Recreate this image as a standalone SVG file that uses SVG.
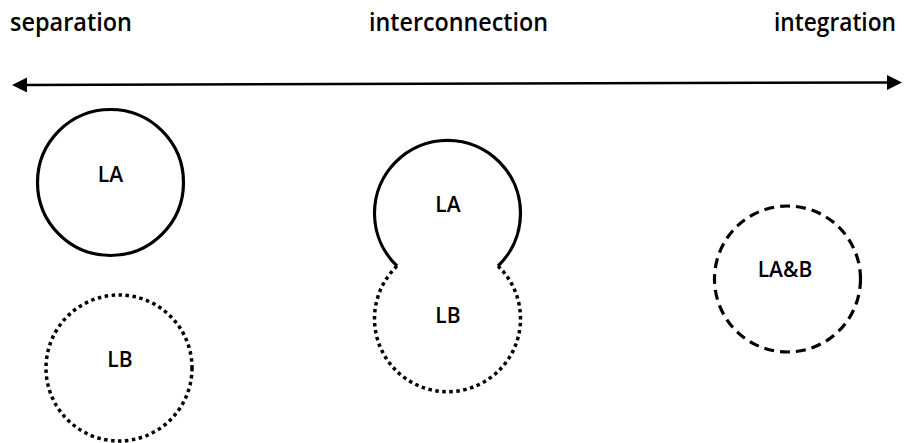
<svg xmlns="http://www.w3.org/2000/svg" width="907" height="443" viewBox="0 0 907 443">
<defs>
<marker id="ah" viewBox="0 0 10 10" refX="2" refY="5" markerWidth="6" markerHeight="6" orient="auto-start-reverse" markerUnits="strokeWidth">
<path d="M0,0 L10,5 L0,10 Z" fill="#000"/>
</marker>
</defs>
<style>
.lbl{font-family:"Open Sans","Liberation Sans",sans-serif;font-size:25px;fill:#000;font-weight:600}
.t{font-family:"Open Sans","Liberation Sans",sans-serif;font-size:21px;fill:#000;font-weight:600;text-anchor:middle}
.solid{fill:none;stroke:#000;stroke-width:3.2}
.dot{fill:none;stroke:#000;stroke-width:3.5;stroke-dasharray:3.5 3.5}
.dash{fill:none;stroke:#000;stroke-width:3.2;stroke-dasharray:10 6}
</style>
<rect width="907" height="443" fill="#fff"/>
<g id="labels">
<text class="lbl" x="10" y="31" textLength="122" lengthAdjust="spacingAndGlyphs">separation</text>
<text class="lbl" x="369" y="31" textLength="179" lengthAdjust="spacingAndGlyphs">interconnection</text>
<text class="lbl" x="774" y="31" textLength="122" lengthAdjust="spacingAndGlyphs">integration</text>
</g>
<g id="connectors">
<line x1="24" y1="85" x2="890" y2="82.5" stroke="#000" stroke-width="2.5" marker-start="url(#ah)" marker-end="url(#ah)"/>
</g>
<g id="sepLA">
<circle class="solid" cx="110.5" cy="182.5" r="73"/>
<text class="t" x="110.5" y="182">LA</text>
</g>
<g id="sepLB">
<circle class="dot" cx="119" cy="368" r="73"/>
<text class="t" x="120" y="367">LB</text>
</g>
<g id="intLA">
<path class="solid" d="M397,266 A73,73 0 1 1 498,266"/>
<text class="t" x="448" y="212">LA</text>
</g>
<g id="intLB">
<path class="dot" d="M498,266 A73,73 0 1 1 397,266"/>
<text class="t" x="448" y="323">LB</text>
</g>
<g id="integ">
<circle class="dash" cx="787.5" cy="279" r="73"/>
<text class="t" x="785" y="277">LA&amp;B</text>
</g>
</svg>
